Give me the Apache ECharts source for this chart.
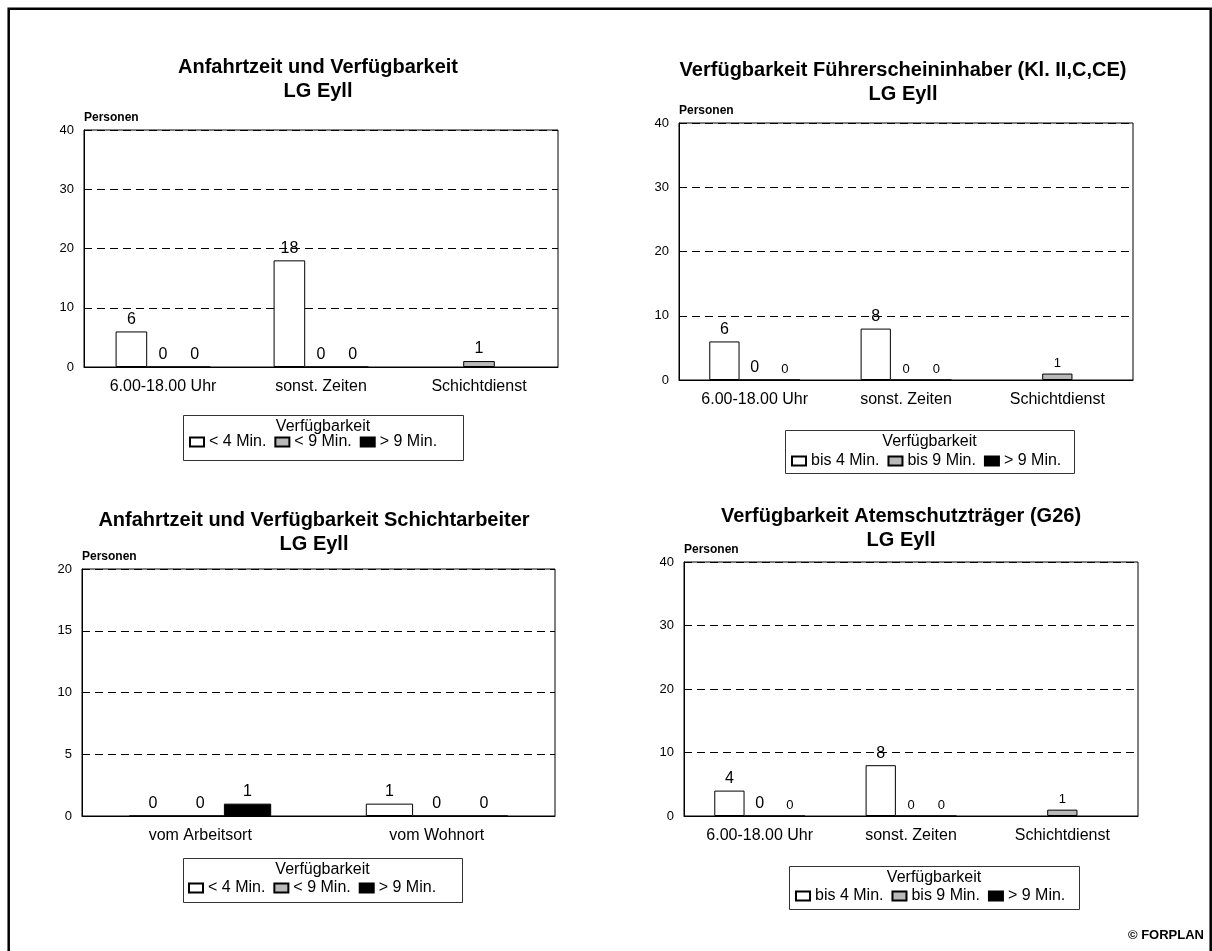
<!DOCTYPE html>
<html lang="de">
<head>
    <meta charset="UTF-8">
    <title>Verfügbarkeit LG Eyll</title>
    <script src="https://cdn.jsdelivr.net/npm/echarts@6/dist/echarts.min.js"></script>
    <style>
        html, body { margin: 0; padding: 0; background: #fff; }
        #main { width: 1212px; height: 951px; }
    </style>
</head>
<body>
<div id="main"></div>
<script type="text/javascript">

    // Kategorien
    var zeitenKat = ['6.00-18.00 Uhr', 'sonst. Zeiten', 'Schichtdienst'];
    var ortKat = ['vom Arbeitsort', 'vom Wohnort'];

    // Achsenskalen
    var ticks40 = [0, 10, 20, 30, 40];
    var ticks20 = [0, 5, 10, 15, 20];

    // Legendennamen
    var namenKleiner = ['< 4 Min.', '< 9 Min.', '> 9 Min.'];
    var namenBis = ['bis 4 Min.', 'bis 9 Min.', '> 9 Min.'];

    // Diagramm 1: Anfahrtzeit und Verfügbarkeit
    var anf_4 = [6, 18, '-'];
    var anf_9 = [0, 0, 1];
    var anf_9plus = [0, 0, '-'];

    // Diagramm 2: Führerscheininhaber
    var fs_4 = [6, 8, '-'];
    var fs_9 = [0, 0, 1];
    var fs_9plus = [0, 0, '-'];

    // Diagramm 3: Schichtarbeiter
    var schicht_4 = [0, 1];
    var schicht_9 = [0, 0];
    var schicht_9plus = [1, 0];

    // Diagramm 4: Atemschutzträger
    var ats_4 = [4, 8, '-'];
    var ats_9 = [0, 0, 1];
    var ats_9plus = [0, 0, '-'];

    var FONT = 'Liberation Sans, Arial, Helvetica, sans-serif';
    var farben = ['#ffffff', '#b9b9b9', '#000000'];

    var grids = [
        {left: 84, top: 130, width: 474, height: 237},
        {left: 679, top: 123, width: 454, height: 257},
        {left: 82, top: 569, width: 473, height: 247},
        {left: 684, top: 562, width: 454, height: 254}
    ];

    function xAchse(idx, kat) {
        return {
            type: 'category', gridIndex: idx, data: kat,
            axisLine: {lineStyle: {color: '#000'}},
            axisTick: {alignWithLabel: true, length: 5, lineStyle: {color: '#000'}},
            axisLabel: {color: '#000', fontSize: 16, margin: 12}
        };
    }

    function yAchse(idx, t) {
        return {
            type: 'value', gridIndex: idx,
            min: t[0], max: t[t.length - 1], interval: t[1] - t[0],
            name: 'Personen', nameLocation: 'end', nameGap: 12,
            nameTextStyle: {color: '#000', fontWeight: 'bold', fontSize: 12, align: 'left', verticalAlign: 'middle'},
            axisLine: {show: true, lineStyle: {color: '#000'}},
            axisTick: {show: false},
            axisLabel: {color: '#000', fontSize: 13, margin: 10},
            splitLine: {lineStyle: {color: '#000', type: [8, 5], width: 1}}
        };
    }

    // kleine Beschriftungen (Diagramm 2 und 4)
    var kleinIdx = {1: [1, 2], 2: [0, 1]};

    function reihen(idx, namen, werte, klein) {
        return werte.map(function (w, s) {
            var daten = w.map(function (v, i) {
                if (klein && kleinIdx[s] && kleinIdx[s].indexOf(i) >= 0) {
                    return {value: v, label: {fontSize: 13}};
                }
                return v;
            });
            return {
                name: namen[s], type: 'bar',
                xAxisIndex: idx, yAxisIndex: idx,
                barGap: '0%', barCategoryGap: '40%',
                data: daten,
                itemStyle: {color: farben[s], borderColor: '#000', borderWidth: 1},
                label: {show: true, position: 'top', distance: 4, color: '#000', fontSize: 16},
                emphasis: {disabled: true}
            };
        });
    }

    function titel(text, x, y) {
        return {
            text: text, left: x, top: y, textAlign: 'center', padding: 0,
            textStyle: {color: '#000', fontSize: 20, fontWeight: 'bold', lineHeight: 24, fontFamily: FONT}
        };
    }

    function legende(namen, x, y) {
        return {
            data: namen, left: x, top: y, orient: 'horizontal', padding: 0,
            icon: 'rect', itemWidth: 14, itemHeight: 9, itemGap: 8, selectedMode: false,
            textStyle: {color: '#000', fontSize: 16}
        };
    }

    function legendBox(x, y, w, h) {
        return [
            {type: 'rect', shape: {x: x + 0.5, y: y + 0.5, width: w, height: h},
                style: {fill: '#fff', stroke: '#333', lineWidth: 1}, z: -1},
            {type: 'text', x: x + w / 2, y: y + 12,
                style: {text: 'Verfügbarkeit', fill: '#000', font: '16px ' + FONT, align: 'center', verticalAlign: 'middle'}}
        ];
    }

    var myChart = echarts.init(document.getElementById('main'));
    var option = {
        animation: false,
        backgroundColor: '#fff',
        textStyle: {fontFamily: FONT},
        title: [
            titel('Anfahrtzeit und Verfügbarkeit\nLG Eyll', 318, 55),
            titel('Verfügbarkeit Führerscheininhaber (Kl. II,C,CE)\nLG Eyll', 903, 58),
            titel('Anfahrtzeit und Verfügbarkeit Schichtarbeiter\nLG Eyll', 314, 508),
            titel('Verfügbarkeit Atemschutzträger (G26)\nLG Eyll', 901, 504)
        ],
        grid: grids.map(function (g) {
            return {left: g.left, top: g.top, width: g.width, height: g.height,
                show: true, borderColor: '#000', borderWidth: 1, backgroundColor: 'transparent'};
        }),
        xAxis: [xAchse(0, zeitenKat), xAchse(1, zeitenKat), xAchse(2, ortKat), xAchse(3, zeitenKat)],
        yAxis: [yAchse(0, ticks40), yAchse(1, ticks40), yAchse(2, ticks20), yAchse(3, ticks40)],
        legend: [
            legende(namenKleiner, 189, 434),
            legende(namenBis, 791, 453),
            legende(namenKleiner, 188, 880),
            legende(namenBis, 795, 888)
        ],
        series: [].concat(
            reihen(0, namenKleiner, [anf_4, anf_9, anf_9plus], false),
            reihen(1, namenBis, [fs_4, fs_9, fs_9plus], true),
            reihen(2, namenKleiner, [schicht_4, schicht_9, schicht_9plus], false),
            reihen(3, namenBis, [ats_4, ats_9, ats_9plus], true)
        ),
        graphic: [].concat(
            [{type: 'rect', shape: {x: 8.7, y: 8.7, width: 1202, height: 960},
                style: {fill: 'none', stroke: '#000', lineWidth: 2.5}}],
            legendBox(183, 415, 280, 45),
            legendBox(785, 430, 289, 43),
            legendBox(183, 858, 279, 44),
            legendBox(789, 866, 290, 43),
            [{type: 'text', right: 8, top: 929,
                style: {text: '© FORPLAN', fill: '#000', font: 'bold 13px ' + FONT}}]
        )
    };
    myChart.setOption(option);
</script>
</body>
</html>
